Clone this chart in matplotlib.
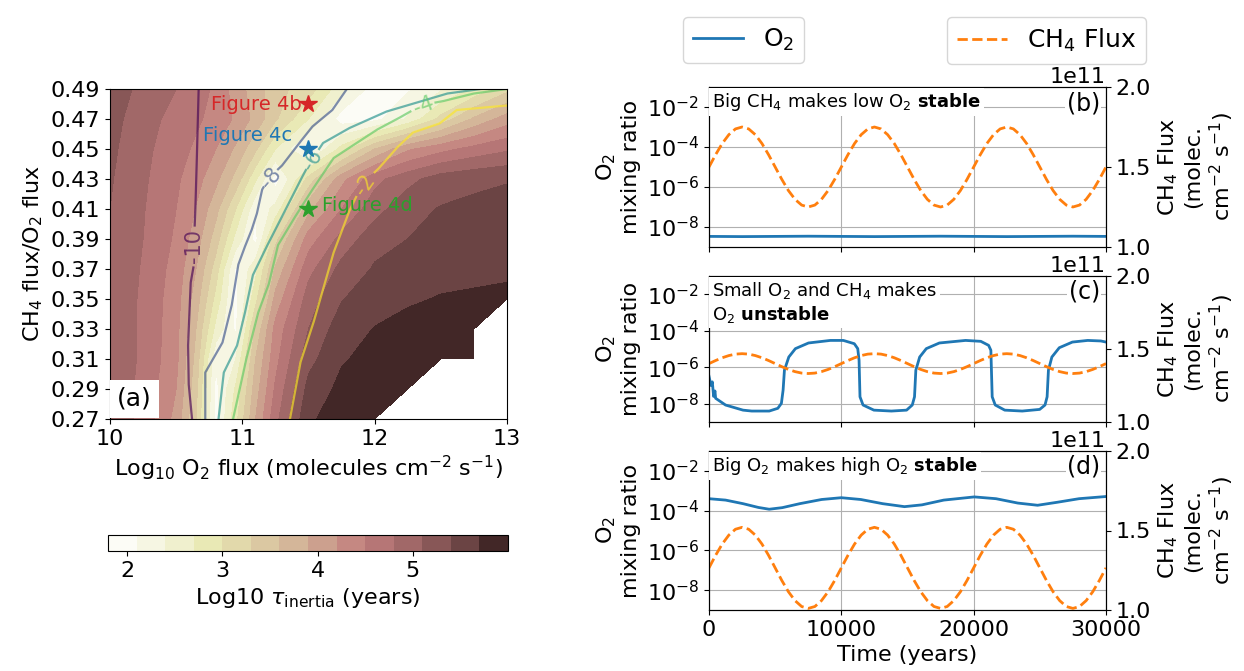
import numpy as np
import matplotlib
matplotlib.use("Agg")
import matplotlib.pyplot as plt
from matplotlib.ticker import FixedLocator, NullLocator

nan = np.nan
plt.rcParams["font.size"] = 16

# ---------------- panel (a): log10 tau_inertia ----------------
o2_flux_log = [10.0, 10.25, 10.5, 10.65, 10.8, 10.95, 11.1, 11.25, 11.5, 11.75, 12.0, 12.25, 12.5, 12.75, 13.0]
ch4_o2_ratio = [0.27, 0.29, 0.31, 0.33, 0.35, 0.37, 0.39, 0.41, 0.43, 0.45, 0.47, 0.49]
log_tau = [
    [5.05, 4.70, 4.10, 3.30, 2.00, 2.90, 3.90, 4.70, 5.65, 5.85, 5.95, nan, nan, nan, nan],
    [5.00, 4.72, 4.20, 3.40, 2.00, 2.75, 3.75, 4.55, 5.50, 5.78, 5.92, 5.97, nan, nan, nan],
    [5.00, 4.75, 4.28, 3.50, 2.15, 2.40, 3.60, 4.40, 5.30, 5.67, 5.80, 5.90, 5.95, 5.97, nan],
    [5.02, 4.75, 4.30, 3.60, 2.60, 2.05, 3.35, 4.30, 5.10, 5.58, 5.71, 5.80, 5.85, 5.88, nan],
    [5.02, 4.75, 4.33, 3.75, 2.90, 2.00, 2.90, 4.00, 4.95, 5.38, 5.60, 5.66, 5.72, 5.74, 5.75],
    [5.05, 4.77, 4.38, 3.90, 3.15, 2.05, 2.60, 3.65, 4.70, 5.20, 5.43, 5.53, 5.60, 5.63, 5.66],
    [5.08, 4.80, 4.45, 4.05, 3.45, 2.60, 2.00, 3.20, 4.35, 4.90, 5.30, 5.40, 5.48, 5.54, 5.58],
    [5.10, 4.82, 4.50, 4.18, 3.70, 3.00, 2.15, 2.50, 3.80, 4.50, 4.98, 5.30, 5.42, 5.47, 5.50],
    [5.13, 4.85, 4.55, 4.32, 3.98, 3.50, 2.75, 1.95, 3.10, 4.10, 4.70, 5.00, 5.25, 5.33, 5.38],
    [5.17, 4.88, 4.62, 4.45, 4.20, 3.85, 3.35, 2.70, 2.00, 2.80, 3.60, 4.15, 4.40, 4.60, 4.75],
    [5.22, 4.92, 4.70, 4.55, 4.40, 4.15, 3.80, 3.35, 2.70, 1.95, 2.00, 2.45, 3.10, 3.65, 4.05],
    [5.30, 5.00, 4.80, 4.62, 4.45, 4.05, 3.75, 3.40, 3.15, 2.50, 1.95, 2.05, 2.35, 2.75, 3.20],
]
tau_levels = np.linspace(1.8, 6.0, 15)

# O2 mixing ratio contours (log10), traced; nan leaves room for the label
o2c_m10_x = [10.67, 10.655, 10.645, 10.64, nan, 10.63, 10.61, 10.59, 10.595, 10.62]
o2c_m10_y = [0.49, 0.44, 0.41, 0.399, nan, 0.371, 0.361, 0.319, 0.293, 0.27]
o2c_m8_x = [11.79, 11.68, 11.53, 11.44, 11.30, 11.27, nan, 11.16, 11.15, 11.11, 11.07, 11.02, 10.97, 10.92, 10.85, 10.72, 10.72]
o2c_m8_y = [0.49, 0.476, 0.465, 0.455, 0.439, 0.4365, nan, 0.4245, 0.423, 0.407, 0.396, 0.385, 0.373, 0.346, 0.321, 0.301, 0.27]
o2c_m6_x = [12.80, 12.55, 12.09, 11.81, 11.61, 11.58, nan, 11.48, 11.45, 11.30, 11.19, 11.08, 11.02, 10.96, 10.86, 10.82]
o2c_m6_y = [0.49, 0.487, 0.475, 0.464, 0.454, 0.45, nan, 0.436, 0.431, 0.405, 0.386, 0.366, 0.341, 0.319, 0.301, 0.27]
o2c_m4_x = [13.0, 12.75, 12.52, 12.46, nan, 12.27, 12.19, 12.02, 11.69, 11.53, 11.40, 11.27, 11.20, 11.12, 11.03, 10.93]
o2c_m4_y = [0.49, 0.487, 0.482, 0.481, nan, 0.475, 0.471, 0.463, 0.444, 0.423, 0.405, 0.386, 0.36, 0.341, 0.31, 0.27]
o2c_m2_x = [13.0, 12.62, 12.49, 12.29, 12.17, 12.03, 12.0, nan, 11.86, 11.81, 11.69, 11.54, 11.44, 11.36]
o2c_m2_y = [0.479, 0.476, 0.467, 0.461, 0.451, 0.437, 0.4345, nan, 0.418, 0.409, 0.381, 0.335, 0.308, 0.27]
o2c_labels = ["-10", "-8", "-6", "-4", "-2"]
o2c_label_xy = [(10.637, 0.385), (11.215, 0.4305), (11.53, 0.443), (12.37, 0.479), (11.93, 0.426)]
o2c_label_rot = [90, 50, 58, 20, 55]

# stars marking the runs of panels (b)-(d)
star_x = [11.5, 11.5, 11.5]
star_y = [0.48, 0.45, 0.41]
star_names = ["Figure 4b", "Figure 4c", "Figure 4d"]
star_colors = ["tab:red", "tab:blue", "tab:green"]

# ---------------- panels (b)-(d): time series ----------------
t_ch4 = np.arange(0, 30001, 500)
ch4_b = [1.500, 1.577, 1.647, 1.702, 1.738, 1.750, 1.738, 1.702, 1.647, 1.577,
         1.500, 1.423, 1.353, 1.298, 1.262, 1.250, 1.262, 1.298, 1.353, 1.423,
         1.500, 1.577, 1.647, 1.702, 1.738, 1.750, 1.738, 1.702, 1.647, 1.577,
         1.500, 1.423, 1.353, 1.298, 1.262, 1.250, 1.262, 1.298, 1.353, 1.423,
         1.500, 1.577, 1.647, 1.702, 1.738, 1.750, 1.738, 1.702, 1.647, 1.577,
         1.500, 1.423, 1.353, 1.298, 1.262, 1.250, 1.262, 1.298, 1.353, 1.423, 1.500]
ch4_c = [1.400, 1.421, 1.440, 1.455, 1.465, 1.468, 1.465, 1.455, 1.440, 1.421,
         1.400, 1.379, 1.360, 1.345, 1.335, 1.332, 1.335, 1.345, 1.360, 1.379,
         1.400, 1.421, 1.440, 1.455, 1.465, 1.468, 1.465, 1.455, 1.440, 1.421,
         1.400, 1.379, 1.360, 1.345, 1.335, 1.332, 1.335, 1.345, 1.360, 1.379,
         1.400, 1.421, 1.440, 1.455, 1.465, 1.468, 1.465, 1.455, 1.440, 1.421,
         1.400, 1.379, 1.360, 1.345, 1.335, 1.332, 1.335, 1.345, 1.360, 1.379, 1.400]
ch4_d = [1.265, 1.344, 1.415, 1.471, 1.508, 1.520, 1.508, 1.471, 1.415, 1.344,
         1.265, 1.186, 1.115, 1.059, 1.022, 1.010, 1.022, 1.059, 1.115, 1.186,
         1.265, 1.344, 1.415, 1.471, 1.508, 1.520, 1.508, 1.471, 1.415, 1.344,
         1.265, 1.186, 1.115, 1.059, 1.022, 1.010, 1.022, 1.059, 1.115, 1.186,
         1.265, 1.344, 1.415, 1.471, 1.508, 1.520, 1.508, 1.471, 1.415, 1.344,
         1.265, 1.186, 1.115, 1.059, 1.022, 1.010, 1.022, 1.059, 1.115, 1.186, 1.265]

# log10 O2 mixing ratio
t_o2_b = [0, 2500, 7500, 12500, 17500, 22500, 27500, 30000]
o2_b = [-8.47, -8.48, -8.46, -8.48, -8.46, -8.48, -8.46, -8.47]
t_o2_c = [0, 150, 250, 350, 450, 500, 1250, 2570, 3230, 4550, 5200, 5470, 5600, 5700,
          6030, 6530, 7520, 9170, 10150, 10980, 11240, 11340, 11410, 11640, 12460,
          13780, 14930, 15360, 15530, 15630, 15920, 16420, 17410, 19390, 20540,
          21130, 21300, 21400, 21630, 22350, 23670, 24990, 25390, 25550, 25650,
          25910, 26470, 27460, 28620, 29610, 30000]
o2_c = [-6.5, -7.0, -6.8, -7.6, -7.3, -7.7, -8.07, -8.35, -8.4, -8.4, -8.25, -7.98, -7.25, -6.16,
        -5.44, -4.98, -4.67, -4.53, -4.53, -4.71, -4.98, -5.62, -7.62, -8.07, -8.35,
        -8.4, -8.35, -8.07, -7.62, -6.16, -5.44, -4.98, -4.67, -4.53, -4.58,
        -4.80, -5.07, -7.62, -8.07, -8.35, -8.4, -8.31, -8.07, -7.62, -6.16,
        -5.44, -4.93, -4.62, -4.53, -4.56, -4.62]
t_o2_d = [0, 1250, 2570, 3730, 4550, 5540, 6860, 8510, 10000, 11470, 13120, 14770, 16090,
          17740, 20050, 21690, 23340, 24830, 26310, 27960, 30000]
o2_d = [-3.40, -3.47, -3.65, -3.84, -3.93, -3.85, -3.65, -3.44, -3.35, -3.44, -3.65, -3.80, -3.71,
        -3.47, -3.31, -3.40, -3.62, -3.73, -3.58, -3.40, -3.29]

panel_tags = ["(b)", "(c)", "(d)"]
panel_notes = [r"Big CH$_4$ makes low O$_2$ $\mathbf{stable}$",
               "Small O$_2$ and CH$_4$ makes\n" + r"O$_2$ $\mathbf{unstable}$",
               r"Big O$_2$ makes high O$_2$ $\mathbf{stable}$"]

W, H = 1244, 671
fig = plt.figure(figsize=(W / 100, H / 100), dpi=100)


def frac(x0, y0, x1, y1):
    return [x0 / W, 1 - y1 / H, (x1 - x0) / W, (y1 - y0) / H]


# ---------- (a) ----------
ax_a = fig.add_axes(frac(110, 89, 507, 419))
tau = np.ma.masked_invalid(np.array(log_tau))
cf = ax_a.contourf(o2_flux_log, ch4_o2_ratio, tau, levels=tau_levels, cmap="pink_r")

line_x = [o2c_m10_x, o2c_m8_x, o2c_m6_x, o2c_m4_x, o2c_m2_x]
line_y = [o2c_m10_y, o2c_m8_y, o2c_m6_y, o2c_m4_y, o2c_m2_y]
line_cols = plt.cm.viridis(np.linspace(0, 1, 5))
for xs, ys, lab, (lx, ly), rot, c in zip(line_x, line_y, o2c_labels, o2c_label_xy, o2c_label_rot, line_cols):
    ax_a.plot(xs, ys, color=c, alpha=0.65, lw=1.6)
    ax_a.text(lx, ly, lab, color=c, alpha=0.65, rotation=rot, ha="center", va="center",
              fontsize=15, rotation_mode="anchor")

for sx, sy, name, c in zip(star_x, star_y, star_names, star_colors):
    ax_a.plot(sx, sy, "*", color=c, ms=13)
ax_a.text(11.45, 0.4795, star_names[0], color=star_colors[0], ha="right", va="center", fontsize=14)
ax_a.text(11.38, 0.459, star_names[1], color=star_colors[1], ha="right", va="center", fontsize=14)
ax_a.text(11.60, 0.4125, star_names[2], color=star_colors[2], ha="left", va="center", fontsize=14)

ax_a.text(0.018, 0.025, "(a)", transform=ax_a.transAxes, fontsize=18, va="bottom",
          bbox=dict(facecolor="white", edgecolor="none", pad=5))
ax_a.set_xlim(10, 13)
ax_a.set_ylim(0.27, 0.49)
ax_a.set_xticks([10, 11, 12, 13])
ax_a.set_yticks(ch4_o2_ratio)
ax_a.set_yticklabels([f"{v:.2f}" for v in ch4_o2_ratio])
ax_a.set_xlabel("Log$_{10}$ O$_2$ flux (molecules cm$^{-2}$ s$^{-1}$)")
ax_a.set_ylabel("CH$_4$ flux/O$_2$ flux")

cax = fig.add_axes(frac(108, 535, 508, 551))
cb = fig.colorbar(cf, cax=cax, orientation="horizontal", ticks=[2, 3, 4, 5])
cb.set_label(r"Log10 $\tau_{\rm inertia}$ (years)")

# ---------- (b)-(d) ----------
boxes = [(709, 87, 1106, 247), (709, 276, 1106, 422), (709, 451, 1106, 610)]
o2_t = [t_o2_b, t_o2_c, t_o2_d]
o2_v = [o2_b, o2_c, o2_d]
ch4_v = [ch4_b, ch4_c, ch4_d]

for i, box in enumerate(boxes):
    ax = fig.add_axes(frac(*box))
    l1, = ax.plot(o2_t[i], 10 ** np.array(o2_v[i]), color="tab:blue", lw=2, label="O$_2$")
    ax.set_yscale("log")
    ax.set_ylim(1e-9, 1e-1)
    ax.yaxis.set_major_locator(FixedLocator([1e-8, 1e-6, 1e-4, 1e-2]))
    ax.yaxis.set_minor_locator(NullLocator())
    ax.set_xlim(0, 30000)
    ax.set_xticks([0, 10000, 20000, 30000])
    ax.grid(True)
    ax.set_ylabel("O$_2$\nmixing ratio")

    ax2 = ax.twinx()
    l2, = ax2.plot(t_ch4, np.array(ch4_v[i]) * 1e11, "--", color="tab:orange", lw=2, label="CH$_4$ Flux")
    ax2.set_ylim(1e11, 2e11)
    ax2.set_yticks([1e11, 1.5e11, 2e11])
    ax2.yaxis.get_offset_text().set_fontsize(16)
    ax2.set_ylabel("CH$_4$ Flux\n(molec.\ncm$^{-2}$ s$^{-1}$)")

    ax2.text(0.008, 0.975, panel_notes[i], transform=ax2.transAxes, ha="left", va="top",
             fontsize=13, bbox=dict(facecolor="white", edgecolor="none", pad=2))
    ax2.text(0.985, 0.975, panel_tags[i], transform=ax2.transAxes, ha="right", va="top",
             fontsize=17, bbox=dict(facecolor="white", edgecolor="none", pad=1))

    if i < 2:
        ax.tick_params(labelbottom=False)
    else:
        ax.set_xlabel("Time (years)")
    if i == 0:
        fig.legend(handles=[l1], loc="upper left", bbox_to_anchor=(683 / W, 1 - 17 / H),
                   borderaxespad=0, fontsize=18)
        fig.legend(handles=[l2], loc="upper right", bbox_to_anchor=(1146 / W, 1 - 17 / H),
                   borderaxespad=0, fontsize=18)

fig.savefig("out.png", dpi=100)
